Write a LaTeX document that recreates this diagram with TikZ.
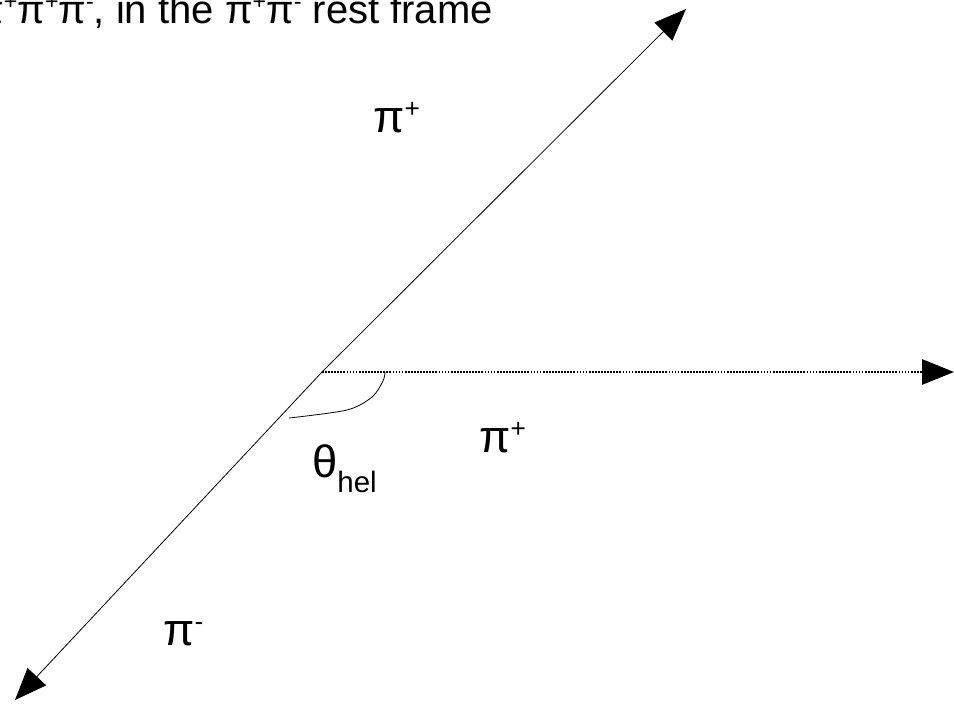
\documentclass[tikz,border=0pt]{standalone}
\usepackage{fontspec}
\setmainfont{Liberation Sans}
\usetikzlibrary{arrows.meta}

% raised charge sign, in the manner of the drawing program
\newcommand{\chg}[1]{\raisebox{0.33em}{\scalebox{0.58}{#1}}}

\begin{document}
\begin{tikzpicture}[x=0.75pt, y=-0.75pt,
    arrow/.style={-{Triangle[length=24pt, width=19pt]}, line width=0.6pt},
    dotline/.style={line width=1.5pt, dash pattern=on 1.3pt off 1pt},
    pilabel/.style={font=\fontsize{34}{40}\selectfont, inner sep=0pt, anchor=base west}]

    \useasboundingbox (0,0) rectangle (954,711);
    \clip (0,0) rectangle (954,711);

    \coordinate (origin) at (322,372);
    \coordinate (tipA) at (686,9);
    \coordinate (tipB) at (954,372);
    \coordinate (tipC) at (15,700);

    \draw[arrow] (origin) -- (tipA);
    \draw[arrow] (origin) -- (tipC);
    \draw[arrow, dotline] (origin) -- (tipB);

    % helicity angle
    \draw[line width=0.6pt] plot[smooth] coordinates {(385,372) (383,381) (372,397) (347,410) (289,418)};

    \node[pilabel] (piA) at (373,132) {π\chg{+}};
    \node[pilabel] (piB) at (479,452) {π\chg{+}};
    \node[pilabel] (piC) at (163,645) {π\chg{-}};
    \node[pilabel] (theta) at (312,477) {θ\raisebox{-0.35em}{\scalebox{0.65}{hel}}};

    \node[font=\fontsize{30}{36}\selectfont, inner sep=0pt, anchor=base east] (title) at (493,23)
        {π\chg{+}π\chg{+}π\chg{-}, in the π\chg{+}π\chg{-} rest frame};

\end{tikzpicture}
\end{document}
